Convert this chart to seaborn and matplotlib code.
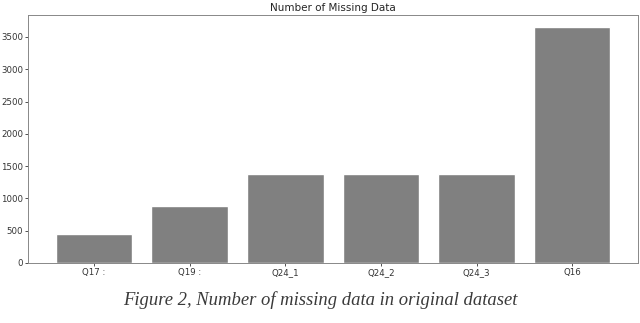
import numpy as np
import pandas as pd
import matplotlib
matplotlib.use("Agg")
import matplotlib.pyplot as plt
import seaborn as sns

# missing counts per question
questions = ["Q17 :", "Q19 :", "Q24_1", "Q24_2", "Q24_3", "Q16"]
missing = [450, 885, 1378, 1378, 1378, 3660]

df = pd.DataFrame({"question": questions, "missing": missing})

sns.set_style("ticks")
plt.rcParams["font.family"] = ["DejaVu Sans"]

fig = plt.figure(figsize=(6.4, 3.23), dpi=100)
ax = fig.add_axes([0.044, 0.186, 0.953, 0.768])

sns.barplot(data=df, x="question", y="missing", color="#808080",
            saturation=1, width=0.8, ax=ax)

# matplotlib-style margins around the bars
n = len(questions)
pad = 0.05 * (n - 0.2)
ax.set_xlim(-0.4 - pad, n - 0.6 + pad)
ax.set_ylim(0, max(missing) * 1.05)
ax.set_yticks(np.arange(0, 3501, 500))
ax.set_xlabel("")
ax.set_ylabel("")
ax.set_title("Number of Missing Data", fontsize=7.5, pad=3)
ax.tick_params(labelsize=6.2, length=2, width=0.6, pad=1.5, colors="#333333")
for sp in ax.spines.values():
    sp.set_linewidth(0.7)
    sp.set_color("#888888")

fig.text(0.5, 0.07, "Figure 2, Number of missing data in original dataset",
         ha="center", va="center", fontsize=13.4, style="italic",
         family="Liberation Serif", color="#3a3a3a")

fig.savefig("out.png", dpi=100)
